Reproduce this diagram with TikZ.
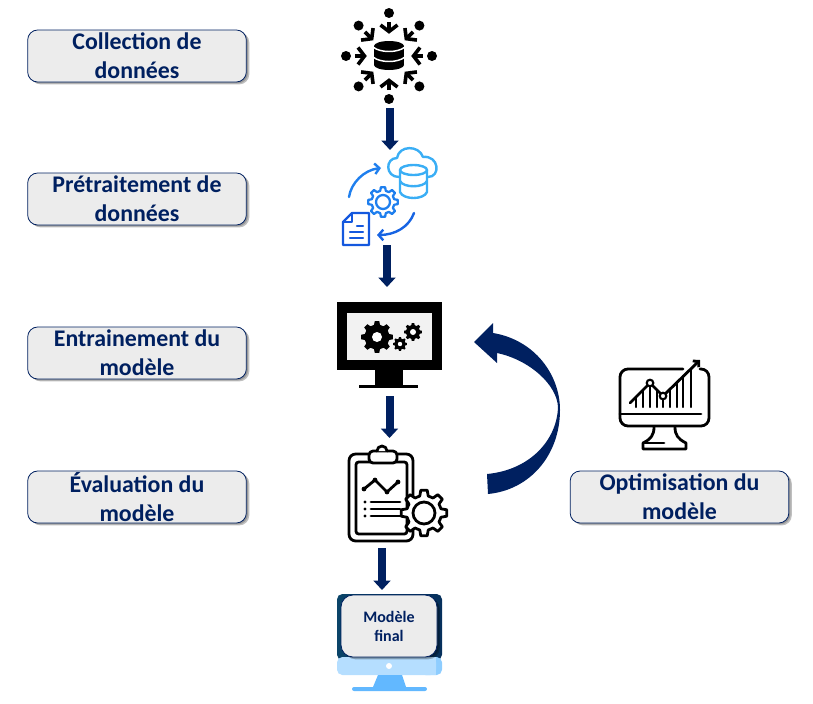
\documentclass[tikz,border=0pt]{standalone}
\usepackage{fontspec}
\setmainfont{Carlito}
\usetikzlibrary{arrows.meta,shadows}

\definecolor{navy}{HTML}{002060}
\definecolor{boxgray}{HTML}{ECECEC}
\definecolor{cloudblue}{HTML}{3AAEF5}
\definecolor{gearblue}{HTML}{1F7FEE}
\definecolor{docblue}{HTML}{1458DE}
\definecolor{screendark}{HTML}{06305C}
\definecolor{screenleft}{HTML}{0A4468}
\definecolor{screenlight}{HTML}{B5DEFF}
\definecolor{screenside}{HTML}{8ECDFF}
\definecolor{standblue}{HTML}{62B8FF}

\tikzset{
  stepbox/.style={draw=navy, fill=boxgray, rounded corners=7.5pt, line width=0.6pt,
    minimum width=164pt, minimum height=39pt, inner sep=0pt, text=navy, align=center,
    font=\fontsize{17.9}{21.75}\selectfont\bfseries,
    drop shadow={shadow xshift=1.2pt, shadow yshift=-1pt, fill=black, opacity=.2},
    drop shadow={shadow xshift=2.2pt, shadow yshift=-1.8pt, fill=black, opacity=.25}},
  finalbox/.style={stepbox, minimum width=72pt, minimum height=46.5pt, rounded corners=9pt,
    font=\fontsize{12}{14.25}\selectfont\bfseries},
  flowarrow/.style={draw=navy, line width=6pt, -{Triangle[length=7pt,width=12.5pt,fill=navy]}},
  iconline/.style={line width=2.1pt, line cap=round, line join=round},
}

% gear: x, y, outer radius, inner radius, hole radius, style of body
\newcommand{\gearicon}[6]{
  \begin{scope}[shift={(#1,#2)}]
  \path[#6] (-14:#4) \foreach \a in {0,45,...,315}{
      -- ({\a-14}:#4) -- ({\a-8}:#3) -- ({\a+8}:#3) -- ({\a+14}:#4)} -- cycle;
  \path[#6] (0,0) circle (#5);
  \end{scope}
}

\begin{document}
\begin{tikzpicture}[x=0.75pt, y=-0.75pt]
\useasboundingbox (0,0) rectangle (813,703);

% Step labels
\node[stepbox] (collecte) at (137,56) {Collection de\\données};
\node[stepbox] (pretraitement) at (137,199) {Prétraitement de\\données};
\node[stepbox] (entrainement) at (137,353) {Entrainement du\\modèle};
\node[stepbox] (evaluation) at (137,497) {Évaluation du\\modèle};
\node[stepbox] (optimisation) at (679.5,497) {Optimisation du\\modèle};

% Data collection icon
\begin{scope}[shift={(389,56)}]
\foreach \a in {0,45,...,315}{
  \begin{scope}[rotate=\a]
  \fill (0,-43) circle (5);
  \draw[line width=2.7pt] (0,-34) -- (0,-25);
  \draw[line width=2.7pt, line join=miter] (-8.5,-31) -- (0,-24.5) -- (8.5,-31);
  \end{scope}
}
\end{scope}
\fill (374,46) rectangle (404,65);
\fill (389,46) circle[x radius=15, y radius=5];
\fill (389,65) circle[x radius=15, y radius=5];
\draw[white, line width=1.1pt] (373,47) .. controls (380,53) and (398,53) .. (405,47);
\draw[white, line width=1.1pt] (373,57) .. controls (380,63) and (398,63) .. (405,57);

% Preprocessing icon
\draw[cloudblue, iconline, line width=1.8pt] (399,177) .. controls (385,177) and (385,158) .. (397,158)
  .. controls (399,145) and (419,145) .. (423,157)
  .. controls (439,155) and (441,177) .. (428,177);
\draw[cloudblue, iconline, line width=1.8pt, fill=white] (400,170) -- (400,192)
  .. controls (403,200) and (424,200) .. (427,192) -- (427,170);
\draw[cloudblue, iconline, line width=1.8pt, fill=white] (413.5,170) circle[x radius=13.5, y radius=5];
\draw[cloudblue, iconline, line width=1.8pt] (400,181) .. controls (403,188) and (424,188) .. (427,181);
\draw[gearblue, iconline, line width=1.8pt, -{Straight Barb[length=3.5pt,width=8pt]}] (349,197) .. controls (351,183) and (364,170) .. (381,168);
\draw[docblue!70!gearblue, iconline, line width=1.8pt, -{Straight Barb[length=3.5pt,width=8pt]}] (414,213) .. controls (409,227) and (395,235) .. (377,235);
\gearicon{383}{202}{15}{11.5}{7}{draw=gearblue, line width=1.7pt, line join=round}
\draw[docblue, iconline, line width=1.8pt] (352,213) -- (369,213) -- (369,245) -- (343,245) -- (343,222) -- cycle;
\draw[docblue, iconline, line width=1.5pt] (352,213) -- (352,222) -- (343,222);
\draw[docblue, iconline, line width=1.8pt] (357,226) -- (363,226);
\draw[docblue, iconline, line width=1.8pt] (350,232) -- (363,232);
\draw[docblue, iconline, line width=1.8pt] (350,238) -- (363,238);

% Training icon
\fill (337,302) rectangle (442,370);
\fill[white!95!black] (347,313) rectangle (432,360);
\fill (375,370) rectangle (403,385);
\fill (359,385) rectangle (418,388);
\gearicon{377}{337}{16}{12.5}{5}{fill=black}
\fill[white] (377,337) circle (5);
\gearicon{400}{344}{7}{5.5}{2.2}{fill=black}
\fill[white] (400,344) circle (2.2);
\gearicon{413}{332}{9}{7}{3}{fill=black}
\fill[white] (413,332) circle (3);

% Evaluation icon
\draw[iconline, rounded corners=5pt] (349,454) rectangle (413,541);
\draw[iconline, rounded corners=2pt] (356,462) rectangle (407,534);
\draw[iconline, fill=white, rounded corners=3pt] (369,451) -- (397,451) -- (397,463) -- (369,463) -- cycle;
\draw[iconline, fill=white] (377,451) arc[start angle=180, end angle=0, x radius=5, y radius=-5];
\draw[iconline] (364,489) -- (375,480) -- (387,492) -- (398,482);
\foreach \px/\py in {364/489,375/480,387/492,398/482}{
  \fill (\px,\py) circle (2.4);
}
\foreach \py in {502,509,516}{
  \fill (365,\py) circle (1.6);
  \draw[iconline] (371,\py) -- (400,\py);
}
\gearicon{424}{513}{23}{17.5}{11}{draw=black, fill=white, line width=2.1pt, line join=round}

% Optimisation icon
\draw[iconline, rounded corners=6pt] (683,369) -- (620,369) -- (620,426) -- (709,426) -- (709,369) -- (700,369);
\draw[iconline] (620,414) -- (701,414);
\draw[iconline] (654,427) .. controls (654,435) and (651,439) .. (643,443) -- (643,449) -- (686,449) -- (686,443)
  .. controls (678,439) and (675,435) .. (675,427);
\draw[iconline] (645,443) -- (664,443);
\foreach \px/\py in {636/397,643/390,657/390,670/389,677/382,683/376,691/369,650/386,663/399}{
  \draw[iconline, line width=1.8pt] (\px,\py) -- (\px,407);
}
\draw[iconline, -{Straight Barb[length=3pt,width=6.5pt]}] (630,403) -- (650,383) -- (663,396) -- (700,360);
\draw[line width=1.6pt, fill=white] (650,383) circle (3.3);
\draw[line width=1.6pt, fill=white] (663,396) circle (3.3);

% Final model monitor
\shade[left color=screenleft, right color=screendark, rounded corners=4pt] (337,660) -- (337,594) -- (442,594) -- (442,660) -- cycle;
\fill[screenside, rounded corners=4pt] (420,657) -- (420,675) -- (442,675) -- (442,657) -- cycle;
\fill[screenlight, rounded corners=4pt] (337,657) -- (337,675) -- (436,675) -- (436,657) -- cycle;
\fill[screenlight] (425,657) rectangle (436,675);
\fill[white] (389,666) circle (3);
\fill[standblue] (378,675) -- (402,675) -- (406,687) -- (373,687) -- cycle;
\fill[standblue, rounded corners=1.5pt] (352,687) rectangle (427,691);
\node[finalbox] (modelefinal) at (389,626) {Modèle\\final};

% Flow arrows
\coordinate (collecteout) at (390,108);
\coordinate (pretraitin) at (390,150);
\coordinate (pretraitout) at (387,245);
\coordinate (entrainin) at (387,287);
\coordinate (entrainout) at (389.5,396);
\coordinate (evalin) at (389.5,438);
\coordinate (evalout) at (382,548);
\coordinate (finalin) at (382,590);
\draw[flowarrow] (collecteout) -- (pretraitin);
\draw[flowarrow] (pretraitout) -- (entrainin);
\draw[flowarrow] (entrainout) -- (evalin);
\draw[flowarrow] (evalout) -- (finalin);

% Feedback arrow
\fill[navy] (488,494) .. controls (530,490) and (560,455) .. (560,410)
  .. controls (560,375) and (535,340) .. (493,333) -- (493,323) -- (474,342) -- (497,363) -- (497,353)
  .. controls (530,360) and (557,385) .. (558,407)
  .. controls (557,440) and (530,470) .. (487,474) -- cycle;

\end{tikzpicture}
\end{document}
